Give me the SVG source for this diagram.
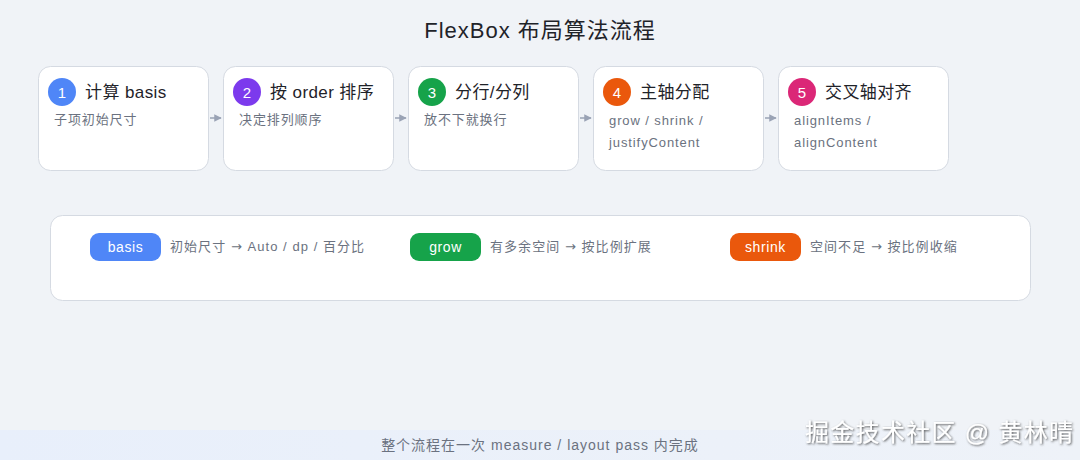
<svg xmlns="http://www.w3.org/2000/svg" width="1080" height="460" viewBox="0 0 1080 460">
<style>
text{font-family:"Liberation Sans","Noto Sans CJK SC",sans-serif}
.card{fill:#fff;stroke:#d5dae2;stroke-width:1}
.num{fill:#fff;font-size:15px;text-anchor:middle}
.ttl{fill:#1f2329;font-size:17px;letter-spacing:0.4px}
.sub{fill:#6b7280;font-size:13px;letter-spacing:0.9px}
.conn{stroke:#9aa3b5;stroke-width:1.5;fill:none;marker-end:url(#ah)}
.pill{font-size:14px;fill:#fff;text-anchor:middle;letter-spacing:0.6px}
.leg{fill:#6b7280;font-size:13px;letter-spacing:1.05px}
.arr{font-family:"DejaVu Sans",sans-serif}
</style>
<defs>
<marker id="ah" viewBox="0 0 10 10" refX="9" refY="5" markerWidth="5" markerHeight="5" orient="auto"><path d="M0,0L10,5L0,10z" fill="#9aa3b5"/></marker>
<linearGradient id="band" x1="0" y1="0" x2="1" y2="0"><stop offset="0" stop-color="#e8effb"/><stop offset="1" stop-color="#eef2f8"/></linearGradient>
<filter id="sh" x="-5%" y="-20%" width="110%" height="140%"><feDropShadow dx="1" dy="1" stdDeviation="0.8" flood-color="#333" flood-opacity="0.8"/></filter>
</defs>
<rect width="1080" height="460" fill="#f0f3f7"/>
<rect x="0" y="430" width="1080" height="30" fill="url(#band)"/>
<text x="540" y="38" font-size="22" fill="#1f2329" text-anchor="middle" letter-spacing="1">FlexBox 布局算法流程</text>
<g id="connectors">
<line class="conn" x1="210" y1="118" x2="221" y2="118"/>
<line class="conn" x1="395" y1="118" x2="406" y2="118"/>
<line class="conn" x1="580" y1="118" x2="591" y2="118"/>
<line class="conn" x1="765" y1="118" x2="776" y2="118"/>
</g>
<g id="step1"><rect class="card" x="38.5" y="66.5" width="170" height="104" rx="12"/><circle cx="62" cy="92" r="14" fill="#4f86f7"/><text class="num" x="62" y="97.5">1</text><text class="ttl" x="85" y="98">计算 basis</text><text class="sub" x="54" y="124">子项初始尺寸</text></g>
<g id="step2"><rect class="card" x="223.5" y="66.5" width="170" height="104" rx="12"/><circle cx="247" cy="92" r="14" fill="#7c3aed"/><text class="num" x="247" y="97.5">2</text><text class="ttl" x="270" y="98">按 order 排序</text><text class="sub" x="239" y="124">决定排列顺序</text></g>
<g id="step3"><rect class="card" x="408.5" y="66.5" width="170" height="104" rx="12"/><circle cx="432" cy="92" r="14" fill="#16a34a"/><text class="num" x="432" y="97.5">3</text><text class="ttl" x="455" y="98">分行/分列</text><text class="sub" x="424" y="124">放不下就换行</text></g>
<g id="step4"><rect class="card" x="593.5" y="66.5" width="170" height="104" rx="12"/><circle cx="617" cy="92" r="14" fill="#ea580c"/><text class="num" x="617" y="97.5">4</text><text class="ttl" x="640" y="98">主轴分配</text><text class="sub" x="609" y="125">grow / shrink /</text><text class="sub" x="609" y="147">justifyContent</text></g>
<g id="step5"><rect class="card" x="778.5" y="66.5" width="170" height="104" rx="12"/><circle cx="802" cy="92" r="14" fill="#db2777"/><text class="num" x="802" y="97.5">5</text><text class="ttl" x="825" y="98">交叉轴对齐</text><text class="sub" x="794" y="125">alignItems /</text><text class="sub" x="794" y="147">alignContent</text></g>
<g id="legend">
<rect x="50.5" y="215.5" width="980" height="85" rx="12" fill="#fff" stroke="#d5dae2"/>
<rect x="90" y="233" width="71" height="28" rx="9" fill="#4f86f7"/><text class="pill" x="125.5" y="251.5">basis</text>
<text class="leg" x="170" y="251">初始尺寸 <tspan class="arr">→</tspan> Auto / dp / 百分比</text>
<rect x="410" y="233" width="71" height="28" rx="9" fill="#16a34a"/><text class="pill" x="445.5" y="251.5">grow</text>
<text class="leg" x="490" y="251">有多余空间 <tspan class="arr">→</tspan> 按比例扩展</text>
<rect x="730" y="233" width="71" height="28" rx="9" fill="#ea580c"/><text class="pill" x="765.5" y="251.5">shrink</text>
<text class="leg" x="810" y="251">空间不足 <tspan class="arr">→</tspan> 按比例收缩</text>
</g>
<text x="540" y="450" font-size="14" fill="#6b7280" text-anchor="middle" letter-spacing="1">整个流程在一次 measure / layout pass 内完成</text>
<text x="805" y="441" font-size="24" fill="#fff" filter="url(#sh)" letter-spacing="1.3">掘金技术社区 @ 黄林晴</text>
</svg>
